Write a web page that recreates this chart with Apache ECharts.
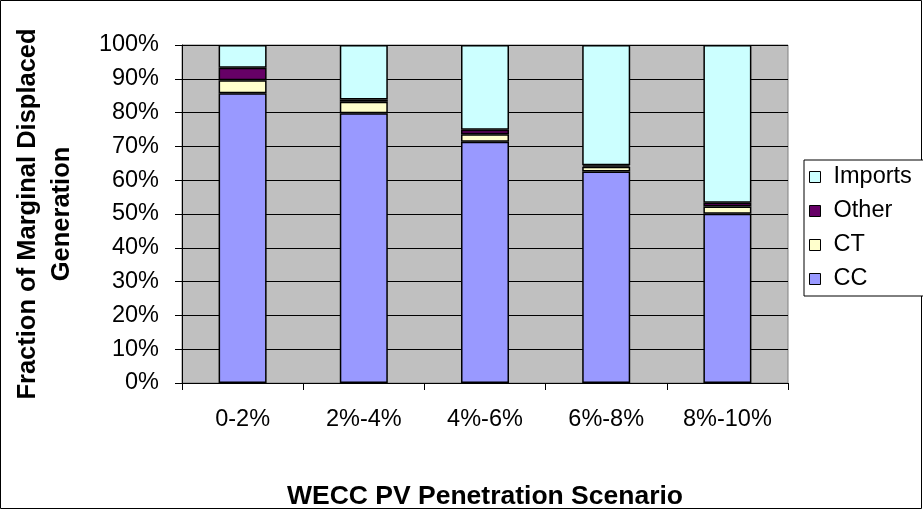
<!DOCTYPE html>
<html>
<head>
<meta charset="utf-8">
<script src="https://cdn.jsdelivr.net/npm/echarts@6/dist/echarts.min.js"></script>
<style>
  html, body { margin: 0; padding: 0; background: #fff; }
  #chart { width: 923px; height: 510px; }
</style>
</head>
<body>
<div id="chart"></div>
<script>
// 数据
const categories = ['0-2%', '2%-4%', '4%-6%', '6%-8%', '8%-10%'];
const ccData = [85.7, 79.8, 71.4, 62.6, 50.1];
const ctData = [3.9, 3.4, 2.2, 1.4, 2.1];
const otherData = [3.7, 0.7, 1.3, 0.4, 1.1];
const importsData = [6.7, 16.1, 25.1, 35.6, 46.7];
const yTicks = [0, 10, 20, 30, 40, 50, 60, 70, 80, 90, 100];

const font = 'Liberation Sans, Arial, sans-serif';
const chart = echarts.init(document.getElementById('chart'));

function barSeries(name, data, color) {
  return {
    name: name,
    type: 'bar',
    stack: 'total',
    data: data,
    barWidth: 48,
    itemStyle: {color: color, borderColor: '#000', borderWidth: 1.5}
  };
}

const option = {
  animation: false,
  backgroundColor: '#fff',
  textStyle: {fontFamily: font},
  graphic: [{
    type: 'rect',
    shape: {x: 0.5, y: 0.5, width: 921, height: 508},
    style: {fill: 'none', stroke: '#000', lineWidth: 1},
    silent: true
  }],
  legend: {
    orient: 'vertical',
    left: 804,
    top: 160,
    padding: [5, 20, 5, 5],
    itemGap: 10,
    itemWidth: 11,
    itemHeight: 11,
    borderColor: '#000',
    borderWidth: 1,
    backgroundColor: '#fff',
    icon: 'rect',
    data: ['Imports', 'Other', 'CT', 'CC'],
    textStyle: {fontFamily: font, fontSize: 23.5, color: '#000', padding: [0, 0, 0, 8]},
    itemStyle: {borderColor: '#000', borderWidth: 1}
  },
  grid: {
    left: 182,
    right: 135,
    top: 45,
    bottom: 127,
    outerBoundsMode: 'none',
    show: true,
    backgroundColor: '#C0C0C0',
    borderColor: '#808080',
    borderWidth: 1
  },
  xAxis: {
    type: 'category',
    data: categories,
    name: 'WECC PV Penetration Scenario',
    nameLocation: 'middle',
    nameGap: 100,
    nameTextStyle: {fontFamily: font, fontSize: 26.5, fontWeight: 'bold', color: '#000'},
    axisLine: {lineStyle: {color: '#000', width: 1}},
    axisTick: {show: true, length: 7, lineStyle: {color: '#000'}},
    axisLabel: {fontFamily: font, fontSize: 23.5, color: '#000', margin: 25}
  },
  yAxis: {
    type: 'value',
    min: 0,
    max: 100,
    interval: 10,
    name: 'Fraction of Marginal Displaced\nGeneration',
    nameLocation: 'middle',
    nameGap: 103,
    nameTextStyle: {fontFamily: font, fontSize: 25.5, fontWeight: 'bold', color: '#000', lineHeight: 34},
    axisLine: {show: true, lineStyle: {color: '#000', width: 1}},
    axisTick: {show: true, length: 7, lineStyle: {color: '#000'}},
    axisLabel: {
      fontFamily: font, fontSize: 23.5, color: '#000', margin: 23,
      formatter: v => (yTicks.indexOf(v) >= 0 ? v + '%' : '')
    },
    splitLine: {show: true, lineStyle: {color: '#000', width: 1}}
  },
  series: [
    barSeries('CC', ccData, '#9999FF'),
    barSeries('CT', ctData, '#FFFFCC'),
    barSeries('Other', otherData, '#660066'),
    barSeries('Imports', importsData, '#CCFFFF')
  ]
};

chart.setOption(option);
</script>
</body>
</html>
